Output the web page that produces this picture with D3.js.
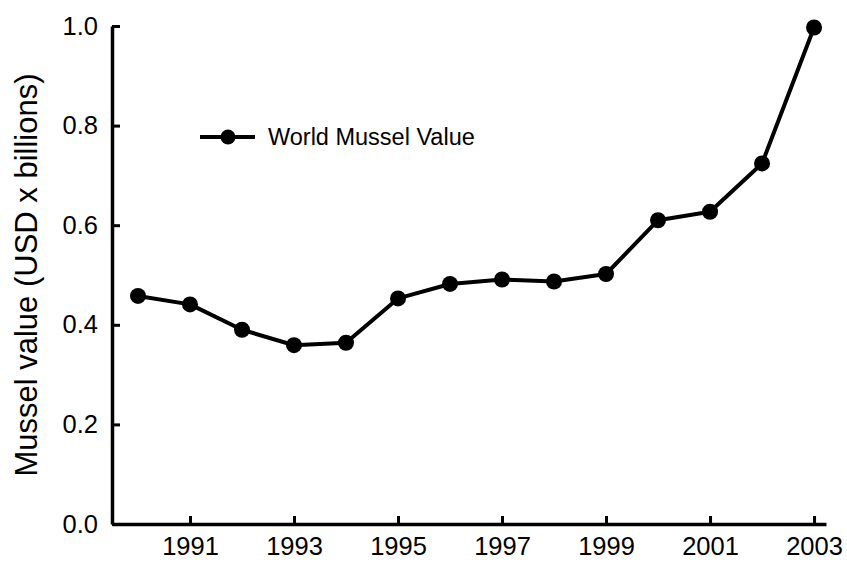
<!DOCTYPE html>
<html>
<head>
<meta charset="utf-8">
<script src="https://cdn.jsdelivr.net/npm/d3@7"></script>
<style>
  body { margin: 0; background: #fff; }
  text { font-family: "Liberation Sans", Arial, sans-serif; fill: #000; }
</style>
</head>
<body>
<div id="chart"></div>
<script>
// data
const years = [1990, 1991, 1992, 1993, 1994, 1995, 1996, 1997, 1998, 1999, 2000, 2001, 2002, 2003];
const musselValue = [0.458, 0.441, 0.390, 0.359, 0.364, 0.453, 0.482, 0.491, 0.487, 0.502, 0.610, 0.627, 0.724, 0.997];
const xTickYears = [1991, 1993, 1995, 1997, 1999, 2001, 2003];
const yTicks = [0, 0.2, 0.4, 0.6, 0.8, 1.0];
const seriesName = 'World Mussel Value';
const yTitle = 'Mussel value (USD x billions)';

const width = 847, height = 565;
const margin = { top: 26, right: 21, bottom: 41, left: 112 };

const svg = d3.select('#chart')
  .append('svg')
  .attr('width', width)
  .attr('height', height);

svg.append('rect').attr('width', width).attr('height', height).attr('fill', '#fff');

// scales
const x = d3.scaleLinear()
  .domain([1989.5, 2003.23])
  .range([margin.left, width - margin.right]);

const y = d3.scaleLinear()
  .domain([0, 1])
  .range([height - margin.bottom, margin.top]);

// axes
const xAxis = d3.axisBottom(x)
  .tickValues(xTickYears)
  .tickFormat(d3.format('d'))
  .tickSizeInner(-8)
  .tickSizeOuter(0)
  .tickPadding(13);

const yAxis = d3.axisLeft(y)
  .tickValues(yTicks)
  .tickFormat(d3.format('.1f'))
  .tickSizeInner(-8)
  .tickSizeOuter(0)
  .tickPadding(14);

const gx = svg.append('g')
  .attr('transform', 'translate(0,' + y(0) + ')')
  .call(xAxis);

const gy = svg.append('g')
  .attr('transform', 'translate(' + margin.left + ',0)')
  .call(yAxis);

[gx, gy].forEach(g => {
  g.select('.domain').attr('stroke', '#000').attr('stroke-width', 3.5);
  g.selectAll('.tick line').attr('stroke', '#000').attr('stroke-width', 3);
  g.selectAll('.tick text')
    .attr('font-family', '"Liberation Sans", Arial, sans-serif')
    .attr('font-size', 25.5)
    .attr('fill', '#000');
});

// y title
svg.append('text')
  .attr('transform', 'rotate(-90)')
  .attr('x', -(y(0) + y(1)) / 2)
  .attr('y', 37)
  .attr('text-anchor', 'middle')
  .attr('font-size', 31)
  .text(yTitle);

// line + markers
const data = years.map((yr, i) => ({ year: yr, value: musselValue[i] }));

const line = d3.line()
  .x(d => x(d.year))
  .y(d => y(d.value));

svg.append('path')
  .datum(data)
  .attr('fill', 'none')
  .attr('stroke', '#000')
  .attr('stroke-width', 4)
  .attr('stroke-linejoin', 'round')
  .attr('d', line);

svg.selectAll('.dot')
  .data(data)
  .enter().append('circle')
  .attr('class', 'dot')
  .attr('cx', d => x(d.year))
  .attr('cy', d => y(d.value))
  .attr('r', 8)
  .attr('fill', '#000');

// legend
const legend = svg.append('g').attr('transform', 'translate(200,137)');
legend.append('line')
  .attr('x1', 0).attr('x2', 55)
  .attr('stroke', '#000').attr('stroke-width', 4);
legend.append('circle')
  .attr('cx', 28).attr('r', 7.5).attr('fill', '#000');
legend.append('text')
  .attr('x', 68)
  .attr('dy', '0.35em')
  .attr('font-size', 23.5)
  .text(seriesName);
</script>
</body>
</html>
